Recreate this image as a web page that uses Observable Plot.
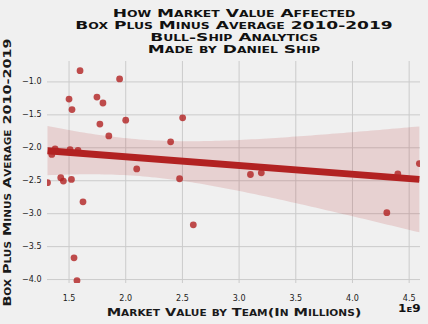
<!DOCTYPE html>
<html><head><meta charset="utf-8">
<script src="https://cdn.jsdelivr.net/npm/d3@7"></script>
<script src="https://cdn.jsdelivr.net/npm/@observablehq/plot@0.6"></script>
<style>
html,body{margin:0;padding:0;background:#f0f0f0;}
</style></head><body><div id="chart"></div>
<script>
// Market value by team (USD) and Box Plus Minus average 2010-2019
const marketValue = [1.31e9, 1.348e9, 1.377e9, 1.427e9, 1.45e9, 1.50e9, 1.509e9, 1.521e9, 1.526e9, 1.544e9,
  1.57e9, 1.579e9, 1.597e9, 1.623e9, 1.746e9, 1.772e9, 1.799e9, 1.851e9, 1.946e9, 2.0e9,
  2.097e9, 2.396e9, 2.475e9, 2.502e9, 2.596e9, 3.10e9, 3.196e9, 4.303e9, 4.40e9, 4.59e9];
const bpm = [-2.53, -2.10, -2.015, -2.455, -2.505, -1.26, -2.03, -2.48, -1.42, -3.67,
  -4.015, -2.04, -0.83, -2.82, -1.23, -1.64, -1.32, -1.82, -0.955, -1.58,
  -2.32, -1.91, -2.47, -1.545, -3.17, -2.405, -2.38, -2.985, -2.395, -2.24];
const xTicks = [1.5e9, 2.0e9, 2.5e9, 3.0e9, 3.5e9, 4.0e9, 4.5e9];
const yTicks = [-4.0, -3.5, -3.0, -2.5, -2.0, -1.5, -1.0];
const titleLines = ["How Market Value Affected", "Box Plus Minus Average 2010-2019", "Bull-Ship Analytics", "Made by Daniel Ship"];
const xLabel = "Market Value by Team(In Millions)";
const yLabel = "Box Plus Minus Average 2010-2019";
const offsetLabel = "1e9";

const data = marketValue.map((x, i) => ({x, y: bpm[i]}));
const fmt = d => (d < 0 ? "\u2212" : "") + Math.abs(d).toFixed(1);

const plot = Plot.plot({
  width: 428, height: 324,
  marginLeft: 47, marginRight: 8, marginTop: 61, marginBottom: 41,
  style: {background: "#f0f0f0", fontFamily: "'DejaVu Sans'", fontSize: "8px", color: "#1a1a1a"},
  x: {domain: [1.31e9, 4.6e9], tickFormat: d => (d / 1e9).toFixed(1)},
  y: {domain: [-4.06, -0.69], tickFormat: fmt},
  marks: [
    Plot.gridX(xTicks, {stroke: "#cbcbcb", strokeOpacity: 1, strokeWidth: 1}),
    Plot.gridY(yTicks, {stroke: "#cbcbcb", strokeOpacity: 1, strokeWidth: 1}),
    Plot.axisX(xTicks, {tickSize: 0, tickPadding: 12, tickFormat: d => (d / 1e9).toFixed(1),
      label: xLabel, labelAnchor: "center", labelArrow: "none", labelOffset: 32}),
    Plot.axisY(yTicks, {tickSize: 0, tickPadding: 6, tickFormat: fmt,
      label: yLabel, labelAnchor: "center", labelArrow: "none", labelOffset: 44}),
    Plot.dot(data, {x: "x", y: "y", r: 3.4, fill: "firebrick", fillOpacity: 0.8, clip: true}),
    Plot.linearRegressionY(data, {x: "x", y: "y", stroke: "firebrick", fill: "firebrick", fillOpacity: 0.15,
      strokeWidth: 7, strokeLinecap: "butt", ci: 0.95, clip: true}),
    Plot.text([titleLines.join("\n")], {frameAnchor: "top", lineAnchor: "middle", dy: -30.7, lineHeight: 1.09,
      fontSize: 11, fontWeight: "bold", fontVariant: "small-caps", className: "title", fill: "#111"}),
    Plot.text([offsetLabel], {frameAnchor: "bottom-right", textAnchor: "end", lineAnchor: "middle", dy: 25,
      fontSize: 10, fontWeight: "bold", fontVariant: "small-caps", className: "offset", fill: "#111"})
  ]
});
document.getElementById("chart").append(plot);

// Copperplate-like wide lettering: small caps, horizontally extended
d3.select(plot).selectAll('g[aria-label="x-axis label"] text, g[aria-label="y-axis label"] text')
  .style("font-variant", "small-caps").style("font-size", "11px").style("font-weight", "bold");
function stretch(sel, k) {
  d3.select(plot).selectAll(sel).each(function() {
    const len = this.getComputedTextLength();
    this.setAttribute("textLength", len * k);
    this.setAttribute("lengthAdjust", "spacingAndGlyphs");
  });
}
stretch(".title tspan", 1.55);
stretch('g[aria-label="x-axis label"] text', 1.32);
stretch('g[aria-label="y-axis label"] text', 1.31);
stretch(".offset text", 1.2);
</script></body></html>
